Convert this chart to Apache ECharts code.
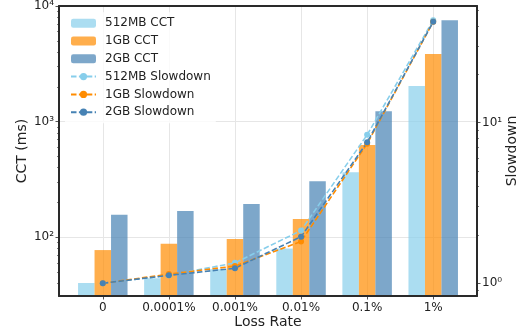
<!DOCTYPE html>
<html><head><meta charset="utf-8">
<script src="https://cdn.jsdelivr.net/npm/echarts@6/dist/echarts.min.js"></script>
<style>html,body{margin:0;padding:0;background:#fff}#c{width:529px;height:334px}</style>
</head><body><div id="c"></div>
<script>
const categories = ['0', '0.0001%', '0.001%', '0.01%', '0.1%', '1%'];
const cct512 = [40.3, 44.3, 53, 80, 366, 2030];
const cct1g = [77.6, 88, 96.7, 144, 627, 3850];
const cct2g = [157, 169, 194, 306, 1233, 7520];
const slow512 = [1.0, 1.12, 1.34, 2.13, 8.4, 43.5];
const slow1g = [1.0, 1.14, 1.28, 1.82, 7.4, 42.5];
const slow2g = [1.0, 1.12, 1.24, 1.95, 7.55, 42.5];
const leftMajor = [100, 1000, 10000];
const leftMinor = [40, 50, 60, 70, 80, 90, 200, 300, 400, 500, 600, 700, 800, 900, 2000, 3000, 4000, 5000, 6000, 7000, 8000, 9000];
const rightMajor = [1, 10];
const rightMinor = [0.9, 2, 3, 4, 5, 6, 7, 8, 9, 20, 30, 40, 50];
const xTicks = [0, 1, 2, 3, 4, 5];

const SUP = {'0':'\u2070','1':'\u00B9','2':'\u00B2','3':'\u00B3','4':'\u2074','5':'\u2075','-':'\u207B'};
function pow10Label(v) {
  const e = Math.round(Math.log10(v));
  return '10' + String(e).split('').map(c => SUP[c]).join('');
}
const FONT = 'DejaVu Sans';
const TXT = '#222';
const FRAME = '#2a2a2a';
const GRIDC = '#e6e6e6';
const XMIN = -0.6625, XMAX = 5.6625;
const LMIN = 31.1, LMAX = 10000;
const RMIN = 0.833, RMAX = 53.3;

const chart = echarts.init(document.getElementById('c'), null, {renderer: 'canvas'});
function pts(arr) { return arr.map((v, i) => [i, v]); }
const bar = (name, data, color) => ({
  name, type: 'bar', xAxisIndex: 0, yAxisIndex: 0, data: pts(data),
  barWidth: 16.5, barGap: '0%', itemStyle: {color}, z: 2, clip: true
});
const line = (name, data, color) => ({
  name, type: 'line', xAxisIndex: 0, yAxisIndex: 1, data: pts(data),
  symbol: 'circle', symbolSize: 6, z: 3,
  lineStyle: {type: [5.5, 2.4], width: 1.6, color},
  itemStyle: {color}
});
const hiddenLine = {show: false, onZero: false};
const hidden = {show: false};
chart.setOption({
  animation: false,
  textStyle: {fontFamily: FONT},
  grid: {left: 59, right: 52, top: 6, bottom: 38, containLabel: false, outerBoundsMode: 'none'},
  legend: {
    orient: 'vertical', left: 65, top: 12.2, padding: 5,
    itemWidth: 25, itemHeight: 9, itemGap: 5.8,
    backgroundColor: 'rgba(255,255,255,0.8)',
    textStyle: {fontFamily: FONT, fontSize: 12, color: TXT, lineHeight: 12, padding: [0, 0, 0, 4]},
    data: ['512MB CCT', '1GB CCT', '2GB CCT', '512MB Slowdown', '1GB Slowdown', '2GB Slowdown']
  },
  xAxis: [
    {type: 'value', position: 'bottom', min: XMIN, max: XMAX, z: 5, nameMoveOverlap: false,
     axisLine: {show: true, onZero: false, lineStyle: {color: FRAME, width: 2}},
     axisTick: {show: true, length: 3.5, customValues: xTicks, lineStyle: {color: FRAME, width: 0.8}},
     axisLabel: {customValues: xTicks, margin: 6, fontSize: 12, color: TXT, fontFamily: FONT,
                 formatter: v => categories[Math.round(v)]},
     splitLine: hidden,
     name: 'Loss Rate', nameLocation: 'middle', nameGap: 19,
     nameTextStyle: {fontSize: 14, color: TXT, fontFamily: FONT}},
    {type: 'value', position: 'top', min: XMIN, max: XMAX, z: 5,
     axisLine: {show: true, onZero: false, lineStyle: {color: FRAME, width: 2}},
     axisTick: hidden, axisLabel: hidden, splitLine: hidden},
    {type: 'value', position: 'bottom', min: XMIN, max: XMAX, z: 0,
     axisLine: hiddenLine, axisLabel: {show: false, customValues: xTicks},
     axisTick: {show: false, customValues: xTicks},
     splitLine: {show: true, lineStyle: {color: GRIDC, width: 1}}}
  ],
  yAxis: [
    {type: 'log', logBase: 10, position: 'left', min: LMIN, max: LMAX, z: 5, nameMoveOverlap: false,
     axisLine: {show: true, onZero: false, lineStyle: {color: FRAME, width: 2}},
     axisTick: {show: true, length: 3.5, customValues: leftMajor, lineStyle: {color: FRAME, width: 0.8}},
     axisLabel: {customValues: leftMajor, margin: 5, fontSize: 12, color: TXT, fontFamily: FONT,
                 padding: [5, 0, 0, 0], formatter: pow10Label},
     splitLine: hidden,
     name: 'CCT (ms)', nameLocation: 'middle', nameGap: 29.5,
     nameTextStyle: {fontSize: 14, color: TXT, fontFamily: FONT}},
    {type: 'log', logBase: 10, position: 'right', min: RMIN, max: RMAX, z: 5, nameMoveOverlap: false,
     axisLine: {show: true, onZero: false, lineStyle: {color: FRAME, width: 2}},
     axisTick: {show: true, length: 3.5, customValues: rightMajor, lineStyle: {color: FRAME, width: 0.8}},
     axisLabel: {customValues: rightMajor, margin: 5, fontSize: 12, color: TXT, fontFamily: FONT,
                 padding: [5, 0, 0, 0], formatter: pow10Label},
     splitLine: hidden,
     name: 'Slowdown', nameLocation: 'middle', nameGap: 28,
     nameTextStyle: {fontSize: 14, color: TXT, fontFamily: FONT}},
    {type: 'log', logBase: 10, position: 'left', min: LMIN, max: LMAX, z: 5,
     axisLine: hiddenLine, axisLabel: {show: false, customValues: leftMinor},
     axisTick: {show: true, length: 2, customValues: leftMinor, lineStyle: {color: FRAME, width: 0.6}},
     splitLine: hidden},
    {type: 'log', logBase: 10, position: 'right', min: RMIN, max: RMAX, z: 5,
     axisLine: hiddenLine, axisLabel: {show: false, customValues: rightMinor},
     axisTick: {show: true, length: 2, customValues: rightMinor, lineStyle: {color: FRAME, width: 0.6}},
     splitLine: hidden},
    {type: 'log', logBase: 10, position: 'left', min: LMIN, max: LMAX, z: 0,
     axisLine: hiddenLine, axisLabel: {show: false, customValues: leftMajor},
     axisTick: {show: false, customValues: leftMajor},
     splitLine: {show: true, lineStyle: {color: GRIDC, width: 1}}}
  ],
  series: [
    bar('512MB CCT', cct512, 'rgba(135,206,235,0.7)'),
    bar('1GB CCT', cct1g, 'rgba(255,140,0,0.7)'),
    bar('2GB CCT', cct2g, 'rgba(70,130,180,0.7)'),
    line('512MB Slowdown', slow512, '#87CEEB'),
    line('1GB Slowdown', slow1g, '#FF8C00'),
    line('2GB Slowdown', slow2g, '#4682B4')
  ]
});
</script>
</body></html>
